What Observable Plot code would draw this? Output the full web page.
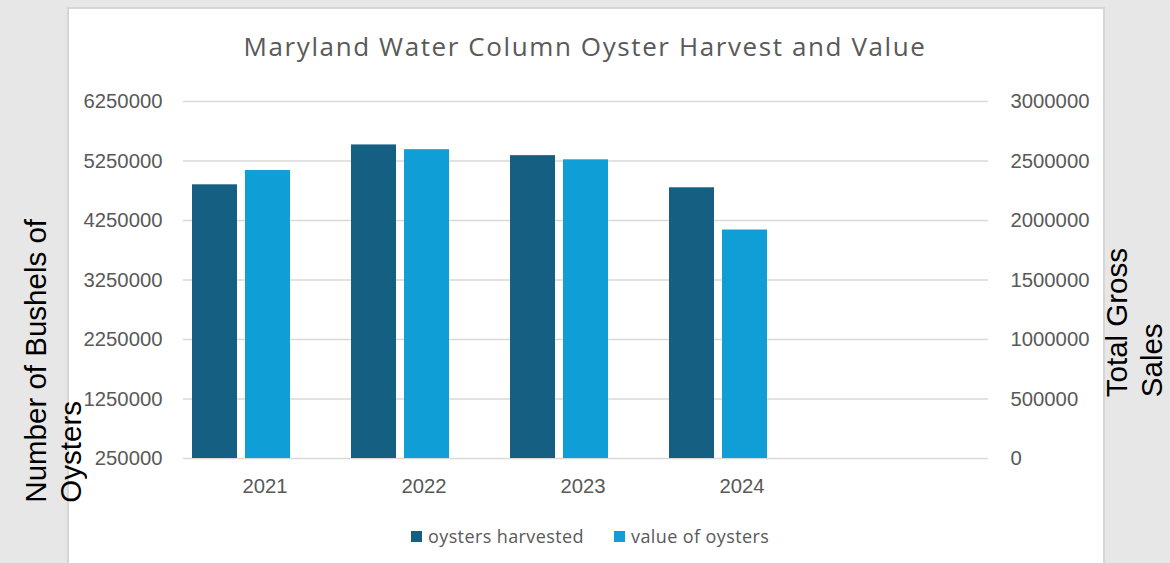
<!DOCTYPE html>
<html>
<head>
<meta charset="utf-8">
<script src="https://cdn.jsdelivr.net/npm/d3@7"></script>
<script src="https://cdn.jsdelivr.net/npm/@observablehq/plot@0.6"></script>
<style>
  html, body { margin: 0; padding: 0; background: #e7e7e7; }
  #wrap { position: relative; width: 1170px; height: 563px; overflow: hidden; }
  #panel { position: absolute; left: 67px; top: 7px; width: 1034px; height: 600px; background: #fff; border: 2px solid #d6d6d6; }
  #title { position: absolute; left: 0; top: 28px; width: 1170px; text-align: center; font-family: "Open Sans", sans-serif; font-size: 26px; letter-spacing: 1.6px; color: #595959; white-space: nowrap; }
  #chart { position: absolute; left: 0; top: 0; }
  .ytitle { position: absolute; writing-mode: vertical-rl; transform: rotate(180deg); font-family: "Liberation Sans", Arial, sans-serif; font-size: 29.5px; line-height: 35px; color: #000; white-space: pre; text-align: start; }
  .leg { position: absolute; top: 524px; font-family: "Open Sans", sans-serif; font-size: 18px; letter-spacing: 0.4px; color: #595959; white-space: nowrap; display: flex; align-items: center; }
  .leg .sw { width: 11px; height: 11px; margin-right: 6px; display: inline-block; }
</style>
</head>
<body>
<div id="wrap">
  <div id="panel"></div>
  <div id="title">Maryland Water Column Oyster Harvest and Value</div>
  <div id="chart"></div>
  <div class="ytitle" style="left:18px; bottom:60px;">Number of Bushels of
Oysters</div>
  <div class="ytitle" style="left:1099px; bottom:166px;">Total Gross
Sales</div>
  <div id="legend"></div>
</div>
<script>
const years = ["2021", "2022", "2023", "2024"];
const seriesNames = ["oysters harvested", "value of oysters"];
const harvested = [4850000, 5520000, 5340000, 4800000];
const valueOfOysters = [2420000, 2595000, 2510000, 1920000];
const leftTicks = [250000, 1250000, 2250000, 3250000, 4250000, 5250000, 6250000];
const rightTicks = [0, 500000, 1000000, 1500000, 2000000, 2500000, 3000000];
const colors = ["#156082", "#0F9ED5"];

// map secondary-axis values onto the primary scale
const toLeft = v => leftTicks[0] + (v - rightTicks[0]) * (leftTicks[leftTicks.length - 1] - leftTicks[0]) / (rightTicks[rightTicks.length - 1] - rightTicks[0]);

const categories = [...years, ""]; // Excel left an empty fifth category
const slots = ["a", "b", "c"];     // two series + one empty slot per cluster
const xDomain = categories.flatMap(c => slots.map(s => c + "|" + s));

const rows = years.flatMap((y, i) => [
  {key: y + "|a", series: seriesNames[0], v: harvested[i]},
  {key: y + "|b", series: seriesNames[1], v: toLeft(valueOfOysters[i])}
]);

const chart = Plot.plot({
  width: 1170,
  height: 510,
  marginTop: 101,
  marginBottom: 52,
  marginLeft: 183,
  marginRight: 182,
  style: {background: "transparent", fontFamily: "Liberation Sans, Arial, sans-serif", fontSize: "20.3px", color: "#595959"},
  x: {domain: xDomain, paddingInner: 0.15, paddingOuter: 0.05, axis: null},
  y: {domain: [leftTicks[0], leftTicks[leftTicks.length - 1]], axis: null},
  color: {domain: seriesNames, range: colors},
  marks: [
    Plot.ruleY(leftTicks, {stroke: "#d9d9d9", strokeWidth: 1.6}),
    Plot.barY(rows, {x: "key", y1: leftTicks[0], y2: "v", fill: "series"}),
    Plot.axisY(leftTicks, {anchor: "left", tickSize: 0, tickPadding: 21, tickFormat: d => String(d), label: null}),
    Plot.axisY(rightTicks.map(toLeft), {anchor: "right", tickSize: 0, tickPadding: 22, tickFormat: (d, i) => String(rightTicks[i]), label: null}),
    Plot.axisX(years.map(y => y + "|b"), {anchor: "bottom", tickSize: 0, tickPadding: 20, dx: -3, tickFormat: d => d.split("|")[0], label: null})
  ]
});
document.getElementById("chart").appendChild(chart);

const legend = document.getElementById("legend");
const legendLeft = [411, 614];
seriesNames.forEach((name, i) => {
  const item = document.createElement("div");
  item.className = "leg";
  item.style.left = legendLeft[i] + "px";
  const sw = document.createElement("span");
  sw.className = "sw";
  sw.style.background = colors[i];
  item.appendChild(sw);
  item.appendChild(document.createTextNode(name));
  legend.appendChild(item);
});
</script>
</body>
</html>
